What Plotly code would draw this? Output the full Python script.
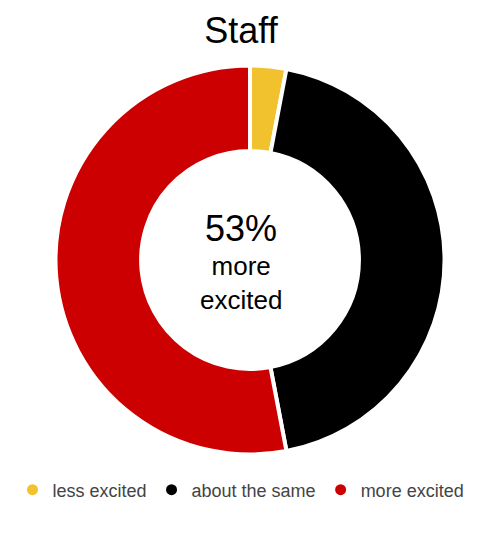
import plotly.graph_objects as go

# Staff excitement donut
labels = ["less excited", "about the same", "more excited"]
values = [3, 44, 53]
colors = ["#f2c12e", "#000000", "#cc0000"]
center_pct = "53%"
center_label = "more<br>excited"

# page body has an 8px margin, so the figure is a bit smaller than the window
W, H = 461, 518

fig = go.Figure()
fig.add_trace(go.Pie(labels=labels, values=values,
                     marker=dict(colors=colors, line=dict(color="white", width=4)),
                     hole=0.56, sort=False, direction="clockwise", rotation=0,
                     textinfo="none", hoverinfo="label+percent", showlegend=False,
                     domain=dict(x=[0.103, 0.947], y=[0.138, 0.889])))

# dummy traces so the legend gets round markers
for lab, col in zip(labels, colors):
    fig.add_trace(go.Scatter(x=[None], y=[None], mode="markers", name=lab,
                             marker=dict(color=col, size=11, symbol="circle")))

fig.add_annotation(text=center_pct, x=0.5054, y=0.5734, xref="paper", yref="paper",
                   showarrow=False, font=dict(size=36, color="#000"))
fig.add_annotation(text=center_label, x=0.5054, y=0.469, xref="paper", yref="paper",
                   showarrow=False, font=dict(size=26, color="#000"))

fig.update_layout(
    width=W, height=H,
    margin=dict(l=0, r=0, t=0, b=0, autoexpand=False),
    paper_bgcolor="white", plot_bgcolor="white",
    font=dict(family="Liberation Sans, Arial", color="#444"),
    title=dict(text="Staff", x=0.5054, xanchor="center", y=0.9575, yanchor="middle",
               font=dict(size=36, color="#000")),
    xaxis=dict(visible=False), yaxis=dict(visible=False),
    legend=dict(orientation="h", x=0.5054, xanchor="center", y=0.0695, yanchor="middle",
                font=dict(size=18, color="#444"), itemwidth=30),
)

fig.write_html("out.html")
